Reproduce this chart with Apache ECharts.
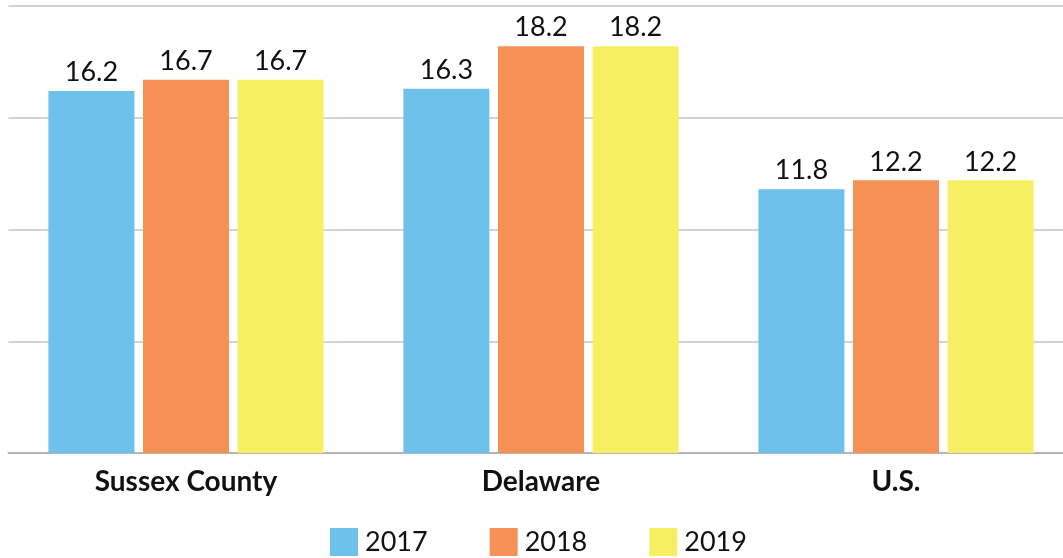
<!DOCTYPE html>
<html>
<head>
<meta charset="utf-8">
<script src="https://cdn.jsdelivr.net/npm/echarts@6/dist/echarts.min.js"></script>
<style>
  html, body { margin: 0; padding: 0; background: #ffffff; }
  #chart { width: 1063px; height: 558px; }
</style>
</head>
<body>
<div id="chart"></div>
<script>
// Regions compared across three years
const categories = ['Sussex County', 'Delaware', 'U.S.'];
const years = ['2017', '2018', '2019'];
const values2017 = [16.2, 16.3, 11.8];
const values2018 = [16.7, 18.2, 12.2];
const values2019 = [16.7, 18.2, 12.2];
const colors = ['#6EC1EA', '#F69155', '#F7EF62'];

const seriesValues = [values2017, values2018, values2019];
const font = 'Lato, "Open Sans", sans-serif';

const chart = echarts.init(document.getElementById('chart'), null, { renderer: 'canvas' });

chart.setOption({
  animation: false,
  grid: {
    left: 8.5, width: 1065, top: 6, bottom: 105,
    containLabel: false, outerBoundsMode: 'none'
  },
  legend: {
    data: years,
    bottom: 2,
    left: 330,
    padding: 0,
    itemWidth: 28,
    itemHeight: 28,
    itemGap: 62,
    icon: 'rect',
    textStyle: { fontFamily: font, fontSize: 27, color: '#111', padding: [2, 0, 0, 2] }
  },
  xAxis: {
    type: 'category',
    data: categories,
    axisLine: { lineStyle: { color: '#b5b5b5', width: 2 } },
    axisTick: { show: false },
    axisLabel: { fontFamily: font, fontSize: 28, fontWeight: 'bold', color: '#111', margin: 15 }
  },
  yAxis: {
    type: 'value',
    min: 0,
    max: 20,
    interval: 5,
    axisLabel: { show: false },
    axisLine: { show: false },
    axisTick: { show: false },
    splitLine: { lineStyle: { color: '#c4c4c4', width: 1.5 } }
  },
  series: years.map((y, i) => ({
    name: y,
    type: 'bar',
    data: seriesValues[i],
    barWidth: 86,
    barGap: '10%',
    itemStyle: { color: colors[i] },
    label: {
      show: true,
      position: 'top',
      distance: 5,
      fontFamily: font,
      fontSize: 27,
      color: '#111',
      formatter: p => p.value.toFixed(1)
    }
  }))
});
</script>
</body>
</html>
